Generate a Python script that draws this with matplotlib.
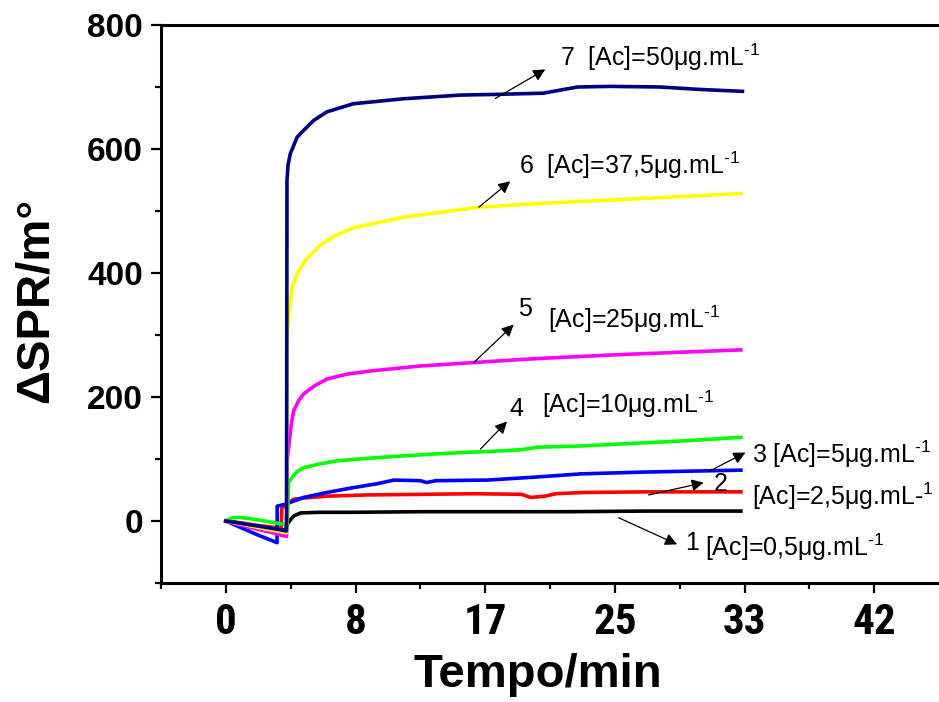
import numpy as np
import matplotlib
matplotlib.use("Agg")
import matplotlib.pyplot as plt
from matplotlib.ticker import FixedLocator, MultipleLocator

plt.rcParams['font.family'] = ['Liberation Sans', 'DejaVu Sans']
plt.rcParams['mathtext.fontset'] = 'custom'
plt.rcParams['mathtext.rm'] = 'Liberation Sans'
plt.rcParams['mathtext.it'] = 'Liberation Sans:italic'
plt.rcParams['mathtext.bf'] = 'Liberation Sans:bold'

# curves: time (min) vs delta SPR (m°)
t1 = [0, 1, 2, 3, 3.7, 3.85, 4.0, 4.35, 4.8, 6, 8, 12.5, 17, 22, 27, 33.1]
s1 = [0, -4, -9, -13, -16, -12, -3, 8, 13, 14, 14, 15, 15, 15, 16, 16]

t2 = [0, 1, 2, 3, 3.55, 3.6, 4.35, 5, 6.5, 9, 12.5, 16, 19, 19.6, 20.5, 21.2, 23, 27, 33.1]
s2 = [0, -3, -7, -10, -12, 21, 35, 37, 40, 42, 43, 44, 43, 38, 40, 44, 46, 47, 47]

t3 = [0, 1, 2, 3, 3.29, 3.3, 3.83, 4.35, 5, 6.5, 8, 9.7, 10.8, 12.5, 12.9, 13.5,
      16.8, 20, 22.8, 27, 33.1]
s3 = [0, -11, -22, -32, -35, 24, 27, 32, 38, 46, 53, 60, 66, 65, 62, 65,
      66, 71, 76, 79, 82]

t4 = [0, 0.4, 0.8, 1.5, 2.5, 3.4, 3.95, 4.03, 4.3, 4.6, 5, 5.5, 6, 7.15, 9, 11.4,
      14, 16.8, 19, 20, 22.8, 26, 30, 33.1]
s4 = [0, 5, 6, 4, 0, -4, -6, 62, 72, 80, 86, 89, 92, 97, 101, 105,
      109, 112, 115, 119, 121, 125, 130, 135]

t5 = [0, 1, 2, 3, 3.9, 3.95, 4.03, 4.2, 4.36, 4.7, 5, 5.7, 6.5, 7.8, 9.3, 12.5,
      16.8, 20, 25, 29, 33.1]
s5 = [0, -7, -13, -19, -25, 100, 118, 155, 178, 195, 205, 218, 229, 237, 242, 250,
      257, 262, 268, 272, 276]

t6 = [0, 1, 2, 3, 3.9, 3.95, 4.03, 4.25, 4.6, 5.1, 6.07, 7, 8.2, 11.4, 16.2, 20,
      25, 29, 33.1]
s6 = [0, -5, -10, -15, -19, 300, 328, 375, 400, 420, 445, 460, 473, 490, 506, 512,
      518, 523, 528]

t7 = [0, 1, 2, 3, 3.9, 3.93, 4.0, 4.15, 4.58, 5.0, 5.64, 6.5, 8.2, 11.4, 15.1,
      17.2, 20.4, 22.6, 24.7, 27.9, 30.5, 33.2]
s7 = [0, -4, -8, -12, -16, 550, 575, 593, 619, 630, 646, 660, 673, 681, 687,
      688, 690, 700, 701, 700, 696, 693]

series = [(t1, s1, 'black'), (t2, s2, '#ff0000'), (t3, s3, '#0000ff'),
          (t4, s4, '#00ff00'), (t5, s5, '#ff00ff'), (t6, s6, '#ffff00'),
          (t7, s7, '#000080')]

xtick_pos = [0, 25 / 3, 50 / 3, 25, 100 / 3, 125 / 3]
xtick_labels = ['0', '8', '17', '25', '33', '42']

fig = plt.figure(figsize=(9.39, 7.02), dpi=100)
ax = fig.add_axes([161 / 939, 1 - 583 / 702, 1 - 161 / 939, (583 - 25) / 702])

for t, s, c in series:
    ax.plot(t, s, color=c, lw=2.6, solid_joinstyle='round')

ax.set_xlim(-25 / 6, 45.83)
ax.set_ylim(-100, 800)

ax.xaxis.set_major_locator(FixedLocator(xtick_pos))
ax.xaxis.set_minor_locator(FixedLocator([-25 / 6 + i * 25 / 3 for i in range(7)]))
ax.set_xticklabels(xtick_labels)
ax.yaxis.set_major_locator(MultipleLocator(200))
ax.yaxis.set_minor_locator(MultipleLocator(100))

for sp in ['left', 'bottom', 'top']:
    ax.spines[sp].set_linewidth(2.2)
ax.spines['right'].set_visible(False)

ax.tick_params(which='major', direction='out', length=7, width=1.6)
ax.tick_params(which='minor', direction='out', length=4, width=1.6)
ax.tick_params(axis='x', which='major', pad=7)
ax.tick_params(axis='y', which='major', pad=6)
ax.tick_params(top=False, which='both')

for lb in ax.get_xticklabels():
    lb.set_family(['Roboto Condensed', 'Liberation Sans Narrow', 'Liberation Sans'])
    lb.set_fontstretch('condensed')
    lb.set_fontweight('bold')
    lb.set_fontsize(31)
for lb in ax.get_yticklabels():
    lb.set_fontweight('bold')
    lb.set_fontsize(24)

fig.text(538 / 939, 1 - 675 / 702, 'Tempo/min', ha='center', va='center',
         fontsize=34, fontweight='bold')
fig.text(36 / 939, 1 - 300 / 702, 'ΔSPR/m°', ha='center', va='center',
         rotation=90, fontsize=34, fontweight='bold')

# arrows: (tail on curve, head near label)
arrows = [((17.32, 681.5), (20.53, 728.4)),
          ((16.25, 506), (18.28, 548)),
          ((15.93, 255.4), (18.5, 316.8)),
          ((16.36, 115.9), (18.07, 160.5)),
          ((31.03, 79.7), (33.39, 110.4)),
          ((27.17, 42), (30.71, 61.9)),
          ((25.24, 5.3), (29.0, -37.7))]
for tail, head in arrows:
    ax.annotate('', xy=head, xytext=tail,
                arrowprops=dict(arrowstyle='-|>', color='black', lw=0.9,
                                mutation_scale=18, shrinkA=0, shrinkB=0))

sup = r'$^{\text{-}1}$'
labels = [(21.5, 748, '7  [Ac]=50μg.mL' + sup),
          (18.86, 574, '6  [Ac]=37,5μg.mL' + sup),
          (18.8, 342, '5'),
          (20.73, 326, '[Ac]=25μg.mL' + sup),
          (18.22, 181, '4'),
          (20.34, 189, '[Ac]=10μg.mL' + sup),
          (33.84, 108, '3 [Ac]=5μg.mL' + sup),
          (31.33, 60, '2'),
          (33.84, 40, '[Ac]=2,5μg.mL-' + r'$^{1}$'),
          (29.53, -35, '1'),
          (30.82, -43, '[Ac]=0,5μg.mL' + sup)]
for x, y, txt in labels:
    ax.text(x, y, txt, fontsize=18, ha='left', va='center', clip_on=False)

fig.savefig('out.png', dpi=100)
